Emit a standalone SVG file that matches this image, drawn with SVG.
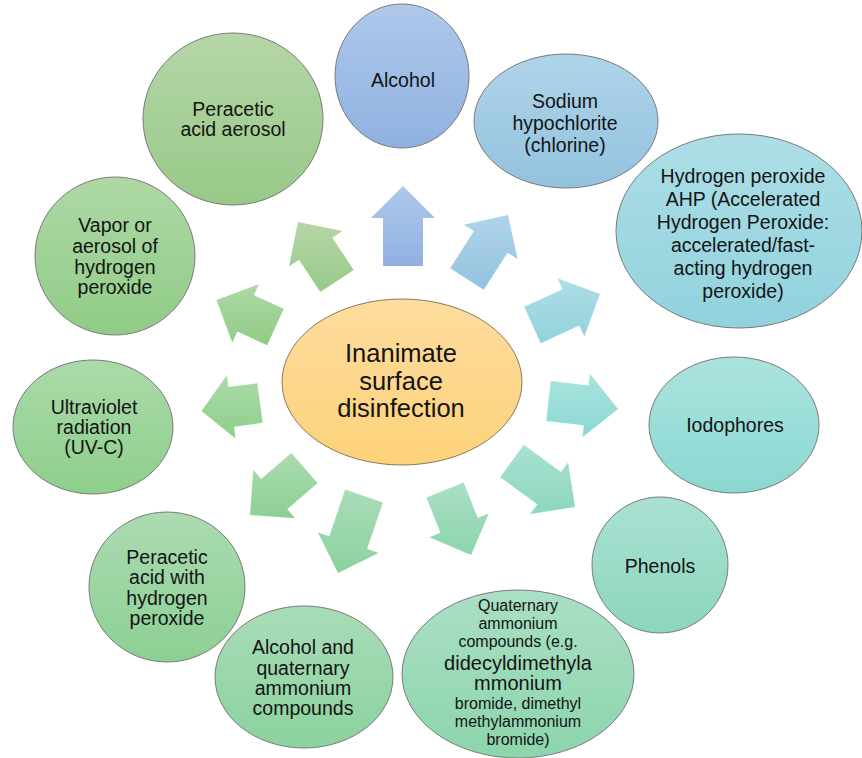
<svg xmlns="http://www.w3.org/2000/svg" width="862" height="758" viewBox="0 0 862 758">
<defs>
<linearGradient id="g1" x1="0" y1="0" x2="0" y2="1"><stop offset="0" stop-color="#afc8eb"/><stop offset="1" stop-color="#8fb1e0"/></linearGradient>
<linearGradient id="g2" x1="0" y1="0" x2="0" y2="1"><stop offset="0" stop-color="#afd4e9"/><stop offset="1" stop-color="#93c2de"/></linearGradient>
<linearGradient id="g3" x1="0" y1="0" x2="0" y2="1"><stop offset="0" stop-color="#adDEe7"/><stop offset="1" stop-color="#91d2dd"/></linearGradient>
<linearGradient id="g4" x1="0" y1="0" x2="0" y2="1"><stop offset="0" stop-color="#aae3df"/><stop offset="1" stop-color="#8bd8d1"/></linearGradient>
<linearGradient id="g5" x1="0" y1="0" x2="0" y2="1"><stop offset="0" stop-color="#aae1d2"/><stop offset="1" stop-color="#8cd6bf"/></linearGradient>
<linearGradient id="g6" x1="0" y1="0" x2="0" y2="1"><stop offset="0" stop-color="#aadfc5"/><stop offset="1" stop-color="#8cd5ac"/></linearGradient>
<linearGradient id="g7" x1="0" y1="0" x2="0" y2="1"><stop offset="0" stop-color="#aadcb8"/><stop offset="1" stop-color="#8bd29e"/></linearGradient>
<linearGradient id="g8" x1="0" y1="0" x2="0" y2="1"><stop offset="0" stop-color="#abdbb1"/><stop offset="1" stop-color="#8cd094"/></linearGradient>
<linearGradient id="g9" x1="0" y1="0" x2="0" y2="1"><stop offset="0" stop-color="#abdaa9"/><stop offset="1" stop-color="#8ecf8b"/></linearGradient>
<linearGradient id="g10" x1="0" y1="0" x2="0" y2="1"><stop offset="0" stop-color="#aed8a6"/><stop offset="1" stop-color="#90cc86"/></linearGradient>
<linearGradient id="g11" x1="0" y1="0" x2="0" y2="1"><stop offset="0" stop-color="#b5d6a6"/><stop offset="1" stop-color="#98c989"/></linearGradient>
<linearGradient id="gc" x1="0" y1="0" x2="0" y2="1"><stop offset="0" stop-color="#fedc9e"/><stop offset="1" stop-color="#fdd27a"/></linearGradient>
</defs>
<style>
.node{stroke:#7a7a7a;stroke-width:1}
.center{stroke:#8a7a5c;stroke-width:1}
text{font-family:"Liberation Sans",Arial,sans-serif;font-size:19.5px;fill:#141414;text-anchor:middle}
.big{font-size:25.5px}
.sm{font-size:16px}
.lg{font-size:20px}
</style>
<rect width="862" height="758" fill="#ffffff"/>
<g id="connectors">
<polygon fill="url(#g1)" points="423,266 423,218 435,218 403,186 371,218 383,218 383,266"/>
<polygon fill="url(#g2)" points="483.8,289.8 507.5,252.7 517.6,259.1 508,215 463.8,224.7 473.9,231.1 450.2,268.2"/>
<polygon fill="url(#g3)" points="540.8,343.2 579.2,325.6 584.3,336.5 600,294 557.5,278.3 562.6,289.2 524.2,306.8"/>
<polygon fill="url(#g4)" points="546.2,420.9 583.9,425.2 582.6,437.1 618,409 589.8,373.5 588.5,385.4 550.8,381.1"/>
<polygon fill="url(#g5)" points="500.2,477.2 537.4,504.3 530.3,513.9 575,507 568.1,462.3 561,471.9 523.8,444.8"/>
<polygon fill="url(#g6)" points="426.4,497.4 440.5,532.7 429.4,537.2 471,555 488.8,513.4 477.7,517.9 463.6,482.6"/>
<polygon fill="url(#g7)" points="345.1,489.6 329.3,536.3 317.9,532.5 338,573 378.5,552.9 367.1,549.1 382.9,502.4"/>
<polygon fill="url(#g8)" points="291.4,452.9 261.1,479 253.3,469.9 250,515 295.1,518.3 287.3,509.2 317.6,483.1"/>
<polygon fill="url(#g9)" points="257.3,383.2 228.5,387.1 226.9,375.2 201.5,411 235.5,438.6 233.9,426.7 262.7,422.8"/>
<polygon fill="url(#g10)" points="283.8,308.8 253.9,295.1 258.9,284.2 216.5,300 232.3,342.4 237.3,331.5 267.2,345.2"/>
<polygon fill="url(#g11)" points="353.7,270 332.4,237.7 342.4,231 298,222 289,266.4 299,259.7 320.3,292"/>
</g>
<g id="center">
<ellipse class="center" cx="402" cy="382" rx="120" ry="83" fill="url(#gc)"/>
<text class="big" x="401" y="362">Inanimate</text>
<text class="big" x="401" y="390">surface</text>
<text class="big" x="401" y="417">disinfection</text>
</g>
<g id="n1">
<ellipse class="node" cx="402" cy="76" rx="67" ry="72" fill="url(#g1)"/>
<text x="403" y="87">Alcohol</text>
</g>
<g id="n2">
<ellipse class="node" cx="566" cy="121" rx="92" ry="67" fill="url(#g2)"/>
<text x="565" y="108">Sodium</text>
<text x="565" y="130">hypochlorite</text>
<text x="565" y="152">(chlorine)</text>
</g>
<g id="n3">
<ellipse class="node" cx="739" cy="231" rx="123" ry="97" fill="url(#g3)"/>
<text x="743" y="183">Hydrogen peroxide</text>
<text x="743" y="206">AHP (Accelerated</text>
<text x="743" y="229">Hydrogen Peroxide:</text>
<text x="743" y="252">accelerated/fast-</text>
<text x="743" y="275">acting hydrogen</text>
<text x="743" y="298">peroxide)</text>
</g>
<g id="n4">
<ellipse class="node" cx="734" cy="425" rx="85" ry="68" fill="url(#g4)"/>
<text x="735" y="432">Iodophores</text>
</g>
<g id="n5">
<ellipse class="node" cx="660" cy="565" rx="68" ry="68" fill="url(#g5)"/>
<text x="660" y="573">Phenols</text>
</g>
<g id="n6">
<ellipse class="node" cx="518" cy="674" rx="116" ry="84" fill="url(#g6)"/>
<text class="sm" x="518" y="611">Quaternary</text>
<text class="sm" x="518" y="629">ammonium</text>
<text class="sm" x="518" y="647">compounds (e.g.</text>
<text class="lg" x="518" y="670">didecyldimethyla</text>
<text class="lg" x="518" y="690">mmonium</text>
<text class="sm" x="518" y="709">bromide, dimethyl</text>
<text class="sm" x="518" y="727">methylammonium</text>
<text class="sm" x="518" y="745">bromide)</text>
</g>
<g id="n7">
<ellipse class="node" cx="304" cy="677" rx="89" ry="71" fill="url(#g7)"/>
<text x="303" y="654">Alcohol and</text>
<text x="303" y="675">quaternary</text>
<text x="303" y="695">ammonium</text>
<text x="303" y="715">compounds</text>
</g>
<g id="n8">
<ellipse class="node" cx="167" cy="587" rx="78" ry="75" fill="url(#g8)"/>
<text x="167" y="564">Peracetic</text>
<text x="167" y="584">acid with</text>
<text x="167" y="605">hydrogen</text>
<text x="167" y="625">peroxide</text>
</g>
<g id="n9">
<ellipse class="node" cx="93" cy="427" rx="80" ry="67" fill="url(#g9)"/>
<text x="94" y="414">Ultraviolet</text>
<text x="94" y="434">radiation</text>
<text x="94" y="454">(UV-C)</text>
</g>
<g id="n10">
<ellipse class="node" cx="115" cy="256" rx="80" ry="79" fill="url(#g10)"/>
<text x="115" y="232">Vapor or</text>
<text x="115" y="253">aerosol of</text>
<text x="115" y="274">hydrogen</text>
<text x="115" y="294">peroxide</text>
</g>
<g id="n11">
<ellipse class="node" cx="233" cy="119" rx="90" ry="86" fill="url(#g11)"/>
<text x="233" y="116">Peracetic</text>
<text x="233" y="136">acid aerosol</text>
</g>
</svg>
